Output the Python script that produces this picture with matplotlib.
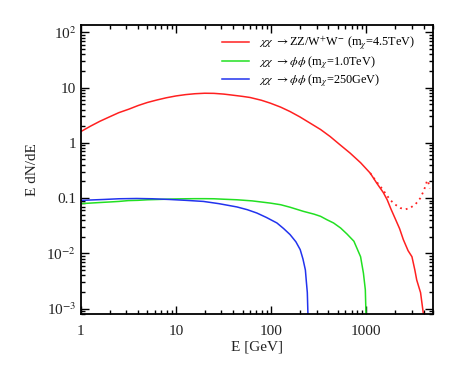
import matplotlib
matplotlib.use("Agg")
import matplotlib.pyplot as plt
from matplotlib.ticker import FixedLocator, FixedFormatter, LogLocator, NullFormatter

plt.rcParams['font.family'] = ['Liberation Serif', 'DejaVu Serif']
plt.rcParams['mathtext.fontset'] = 'stix'

# Red: chi chi -> ZZ/W+W- (m_chi = 4.5 TeV)
red_E = [1, 1.26, 1.58, 2.0, 2.5, 3.2, 4.0, 5.0, 6.3, 7.9, 10, 12.6, 15.8, 20, 25, 31.6,
         37, 50, 60, 79, 98, 126, 158, 200, 257, 331, 417, 525, 676, 871, 1100, 1290,
         1510, 1660, 1820, 2020, 2240, 2450, 2750, 3020, 3240, 3390, 3720, 3980, 4150]
red_y = [1.60, 2.0, 2.45, 2.95, 3.51, 4.07, 4.73, 5.37, 5.96, 6.53, 7.05, 7.45, 7.73,
         7.89, 7.85, 7.62, 7.38, 6.92, 6.61, 5.89, 5.22, 4.42, 3.68, 2.95, 2.27, 1.74,
         1.30, 0.933, 0.652, 0.437, 0.283, 0.186, 0.126, 0.093, 0.063, 0.042, 0.028,
         0.0178, 0.0112, 0.0087, 0.005, 0.0033, 0.00195, 0.00081, 0.0004]

# Red dotted: alternative high-energy tail
dot_E = [1100, 1290, 1410, 1600, 1780, 2000, 2290, 2600, 2880, 3300, 3700, 4050, 4370,
         4500, 4650]
dot_y = [0.283, 0.195, 0.162, 0.12, 0.093, 0.077, 0.066, 0.063, 0.066, 0.078, 0.10,
         0.14, 0.21, 0.19, 0.15]

# Green: chi chi -> phi phi (m_chi = 1.0 TeV)
grn_E = [1, 1.26, 1.58, 2.0, 2.51, 3.16, 3.98, 5.01, 6.31, 7.94, 10, 12.6, 15.8, 20,
         25.1, 31.6, 43.7, 63.1, 97.7, 126, 158, 219, 282, 331, 385, 453, 537, 627,
         741, 794, 871, 933, 977, 1000]
grn_y = [0.0794, 0.0813, 0.0832, 0.0851, 0.0871, 0.0902, 0.0912, 0.0933, 0.0944,
         0.0955, 0.0966, 0.0973, 0.0977, 0.0977, 0.0973, 0.0955, 0.0933, 0.0891,
         0.0813, 0.0759, 0.0684, 0.0575, 0.0513, 0.0468, 0.0407, 0.0355, 0.0288,
         0.0224, 0.0166, 0.0126, 0.0087, 0.0044, 0.0022, 0.0005]

# Blue: chi chi -> phi phi (m_chi = 250 GeV)
blu_E = [1, 1.72, 2.51, 3.86, 5.62, 8.65, 12.6, 19.4, 28.2, 43.7, 56.2, 70.8, 89.1,
         115, 135, 158, 182, 202, 216, 229, 234, 240, 245.5]
blu_y = [0.091, 0.0944, 0.0973, 0.0984, 0.0973, 0.0944, 0.0912, 0.0871, 0.0794,
         0.0692, 0.0617, 0.0537, 0.0447, 0.0355, 0.0282, 0.0219, 0.0162, 0.0117,
         0.0079, 0.0050, 0.0032, 0.00195, 0.0005]

labels = [r'$\chi\chi$ $\rightarrow$ZZ/W$^{+}$W$^{-}$ (m$_{\chi}$=4.5TeV)',
          r'$\chi\chi$ $\rightarrow\phi\phi$ (m$_{\chi}$=1.0TeV)',
          r'$\chi\chi$ $\rightarrow\phi\phi$ (m$_{\chi}$=250GeV)']

xticks = [1, 10, 100, 1000]
xticklabels = ['1', '10', '100', '1000']
yticks = [1e-3, 1e-2, 0.1, 1, 10, 100]
yticklabels = [r'10$^{-3}$', r'10$^{-2}$', '0.1', '1', '10', r'10$^{2}$']

fig = plt.figure(figsize=(4.57, 3.66), dpi=100)
ax = fig.add_axes([0.177, 0.142, 0.770, 0.790])

lw = 1.1
ax.plot(dot_E, dot_y, color='#ff2020', lw=1.3, linestyle=(0, (1, 2.2)))
l1, = ax.plot(red_E, red_y, color='#ff2020', lw=lw, label=labels[0])
l2, = ax.plot(grn_E, grn_y, color='#22e022', lw=lw, label=labels[1])
l3, = ax.plot(blu_E, blu_y, color='#2233ee', lw=lw, label=labels[2])

ax.set_xscale('log')
ax.set_yscale('log')
ax.set_xlim(1, 5000)
ax.set_ylim(8e-4, 1.36e2)

ax.xaxis.set_major_locator(FixedLocator(xticks))
ax.xaxis.set_major_formatter(FixedFormatter(xticklabels))
ax.yaxis.set_major_locator(FixedLocator(yticks))
ax.yaxis.set_major_formatter(FixedFormatter(yticklabels))
ax.xaxis.set_minor_locator(LogLocator(base=10, subs=range(2, 10), numticks=20))
ax.yaxis.set_minor_locator(LogLocator(base=10, subs=range(2, 10), numticks=20))
ax.xaxis.set_minor_formatter(NullFormatter())
ax.yaxis.set_minor_formatter(NullFormatter())

ax.tick_params(which='both', direction='in', top=True, right=True, colors='black',
               labelcolor='#222222', labelsize=11, width=1.0)
ax.tick_params(which='major', length=6)
ax.tick_params(which='minor', length=3)
ax.tick_params(axis='x', which='major', pad=8)
ax.tick_params(axis='y', which='major', pad=3.5)
for s in ax.spines.values():
    s.set_linewidth(1.3)

ax.set_xlabel('E [GeV]', fontsize=11, color='#222222', labelpad=2)
ax.set_ylabel('E dN/dE', fontsize=11, color='#222222', labelpad=5)

ax.legend(handles=[l1, l2, l3], loc='upper left', bbox_to_anchor=(0.395, 0.975),
          frameon=False, fontsize=8.8, handlelength=2.2, handletextpad=0.8,
          labelspacing=0.12, borderpad=0.2, borderaxespad=0)

fig.savefig('out.png', dpi=100)
